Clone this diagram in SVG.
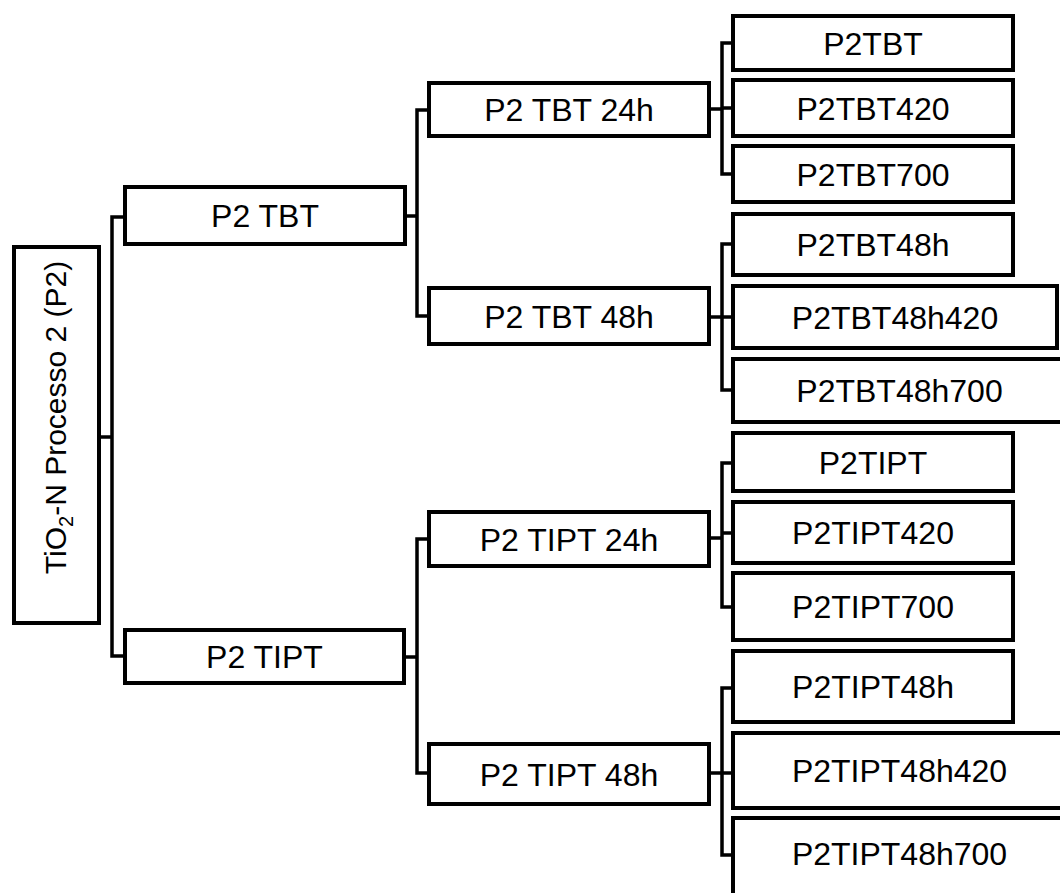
<svg xmlns="http://www.w3.org/2000/svg" width="1060" height="893" viewBox="0 0 1060 893">
<style>
.box{fill:#fff;stroke:#000;stroke-width:4}
.lbl{font-family:"Liberation Sans",Arial,sans-serif;font-size:32px;fill:#000;text-anchor:middle}
.con{fill:none;stroke:#000;stroke-width:3.5}
</style>
<rect width="1060" height="893" fill="#fff"/>
<g id="connectors" class="con">
<path d="M99,437 H112 M125,217 H112 V656 H125"/>
<path d="M405,216 H417 M429,110 H417 V316 H429"/>
<path d="M404,657 H417 M429,539 H417 V773 H429"/>
<path d="M709,109 H722 M733,43 H722 V174 H733 M722,108 H733"/>
<path d="M709,317 H722 M733,244 H722 V390 H733 M722,317 H733"/>
<path d="M709,538 H722 M733,463 H722 V607 H733 M722,533 H733"/>
<path d="M709,773 H722 M733,688 H722 V855 H733 M722,773 H733"/>
</g>
<g id="root">
<rect class="box" x="14" y="247" width="85" height="376"/>
<text class="lbl" style="font-size:30px" transform="translate(66,417.5) rotate(-90)">TiO<tspan font-size="20" dy="7">2</tspan><tspan dy="-7">-N Processo 2 (P2)</tspan></text>
</g>
<g id="p2tbt"><rect class="box" x="125" y="187" width="280" height="57"/><text class="lbl" x="265" y="227">P2 TBT</text></g>
<g id="p2tipt"><rect class="box" x="125" y="630" width="279" height="53"/><text class="lbl" x="264.5" y="668">P2 TIPT</text></g>
<g id="p2tbt24h"><rect class="box" x="429" y="83" width="280" height="53"/><text class="lbl" x="569" y="121">P2 TBT 24h</text></g>
<g id="p2tbt48h"><rect class="box" x="429" y="288" width="280" height="56"/><text class="lbl" x="569" y="328">P2 TBT 48h</text></g>
<g id="p2tipt24h"><rect class="box" x="429" y="512" width="280" height="54"/><text class="lbl" x="569" y="550.5">P2 TIPT 24h</text></g>
<g id="p2tipt48h"><rect class="box" x="429" y="744" width="280" height="60"/><text class="lbl" x="569" y="785.5">P2 TIPT 48h</text></g>
<g id="P2TBT"><rect class="box" x="733" y="16" width="280" height="54"/><text class="lbl" x="873" y="54.5">P2TBT</text></g>
<g id="P2TBT420"><rect class="box" x="733" y="80" width="280" height="56"/><text class="lbl" x="873" y="119.5">P2TBT420</text></g>
<g id="P2TBT700"><rect class="box" x="733" y="146" width="280" height="56"/><text class="lbl" x="873" y="185.5">P2TBT700</text></g>
<g id="P2TBT48h"><rect class="box" x="733" y="214" width="280" height="61"/><text class="lbl" x="873" y="256">P2TBT48h</text></g>
<g id="P2TBT48h420"><rect class="box" x="733" y="286" width="324" height="62"/><text class="lbl" x="895" y="328.5">P2TBT48h420</text></g>
<g id="P2TBT48h700"><rect class="box" x="733" y="359" width="333" height="63"/><text class="lbl" x="899.5" y="402">P2TBT48h700</text></g>
<g id="P2TIPT"><rect class="box" x="733" y="433" width="280" height="58"/><text class="lbl" x="873" y="473.5">P2TIPT</text></g>
<g id="P2TIPT420"><rect class="box" x="733" y="502" width="280" height="61"/><text class="lbl" x="873" y="544">P2TIPT420</text></g>
<g id="P2TIPT700"><rect class="box" x="733" y="573" width="280" height="67"/><text class="lbl" x="873" y="618">P2TIPT700</text></g>
<g id="P2TIPT48h"><rect class="box" x="733" y="651" width="280" height="71"/><text class="lbl" x="873" y="698">P2TIPT48h</text></g>
<g id="P2TIPT48h420"><rect class="box" x="733" y="733" width="333" height="75"/><text class="lbl" x="899.5" y="782">P2TIPT48h420</text></g>
<g id="P2TIPT48h700"><rect class="box" x="733" y="818" width="333" height="82"/><text class="lbl" x="899.5" y="865">P2TIPT48h700</text></g>
</svg>
